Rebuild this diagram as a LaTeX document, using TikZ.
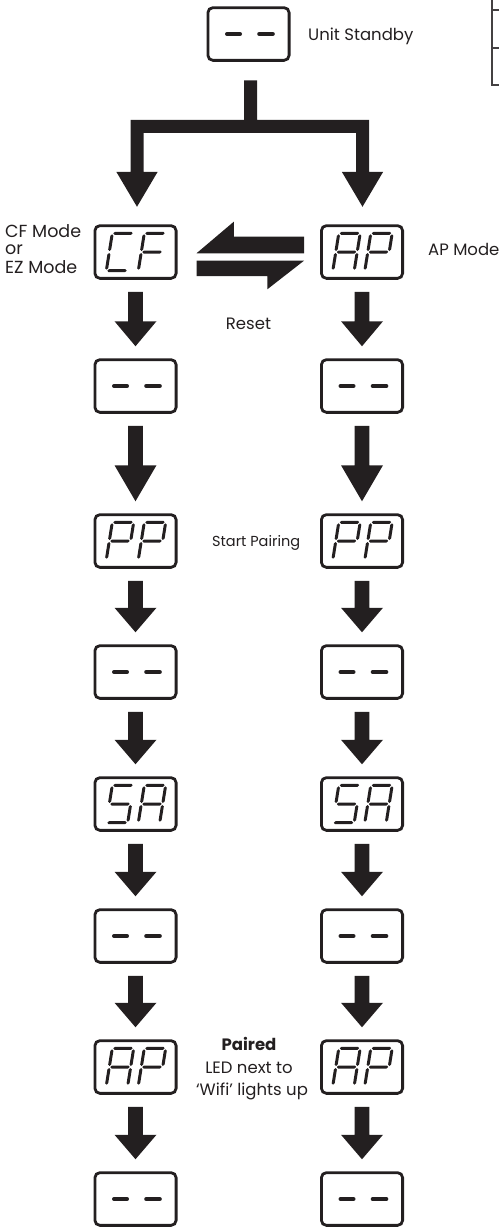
\documentclass[tikz,border=0pt]{standalone}
\usepackage{fontspec}
\setmainfont{Poppins}
\usetikzlibrary{calc}
\definecolor{ink}{HTML}{231F20}
% seven-segment pieces (local units, y downwards)
\newcommand\segh[3]{\fill (#1,#3) -- ({#1+1.5},{#3-1.5}) -- ({#2-1.5},{#3-1.5}) -- (#2,#3) -- ({#2-1.5},{#3+1.5}) -- ({#1+1.5},{#3+1.5}) -- cycle;}
\newcommand\segv[3]{\fill (#1,#2) -- ({#1+1.5},{#2+1.5}) -- ({#1+1.5},{#3-1.5}) -- (#1,#3) -- ({#1-1.5},{#3-1.5}) -- ({#1-1.5},{#2+1.5}) -- cycle;}
\newcommand\sga{\segh{-9.7}{9.7}{-18.7}}
\newcommand\sgg{\segh{-9.7}{9.7}{0}}
\newcommand\sgd{\segh{-9.7}{9.7}{18.7}}
\newcommand\sgf{\segv{-10.7}{-17.7}{-1}}
\newcommand\sge{\segv{-10.7}{1}{17.7}}
\newcommand\sgb{\segv{10.7}{-17.7}{-1}}
\newcommand\sgc{\segv{10.7}{1}{17.7}}
\newcommand\sevseg[2]{\begin{scope}[shift={#1}, xslant=0.16, fill=ink]
  \foreach \s in {#2}{\csname sg\s\endcsname}\end{scope}}
\newcommand\twodig[3]{\sevseg{($(#1)+(-15.5,0)$)}{#2}\sevseg{($(#1)+(16.5,0)$)}{#3}}
\newcommand\dashes[1]{\draw[ink, line width=3.8pt, line cap=round]
  ($(#1)+(-21.6,0)$) -- ($(#1)+(-8.4,0)$) ($(#1)+(10.6,0)$) -- ($(#1)+(24.4,0)$);}
\newcommand\varrow[3]{\fill[ink] ($(#1.south)+(-7.3,12)$) -- ($(#2.north)+(-7.3,-12-#3)$) -- ($(#2.north)+(-21,-12-#3)$) -- ($(#2.north)+(0,-12)$) -- ($(#2.north)+(21,-12-#3)$) -- ($(#2.north)+(7.3,-12-#3)$) -- ($(#1.south)+(7.3,12)$) -- cycle;}
\begin{document}
\begin{tikzpicture}[x=1pt,y=-1pt,
  disp/.style={draw=ink, line width=2.8pt, rounded corners=5pt, minimum width=81.2pt, minimum height=52.7pt, inner sep=0pt},
  lbl/.style={font=\fontsize{16.5}{19}\selectfont, inner sep=0pt, text=ink}]
\useasboundingbox (0,0) rectangle (499,1227);
% corner of a table
\draw[ink!85, line width=1.3pt] (499,10) -- (492,10) (492,0) -- (492,85) -- (499,85) (492,48) -- (499,48);
% displays
\node[disp] (sb) at (248.5,34) {};
\node[disp] (cf) at (135.5,252) {};
\node[disp] (ap) at (362,252) {};
\foreach \n/\y in {1/386,2/541,3/672,4/804,5/936,6/1067,7/1199}{
  \node[disp] (l\n) at (135.5,\y) {};
  \node[disp] (r\n) at (362,\y) {};
}
% display contents
\dashes{sb}
\twodig{cf}{a,f,e,d}{a,f,e,g}
\twodig{ap}{a,b,c,e,f,g}{a,b,f,e,g}
\foreach \n in {1,3,5,7}{\dashes{l\n}\dashes{r\n}}
\twodig{l2}{a,b,f,e,g}{a,b,f,e,g}
\twodig{r2}{a,b,f,e,g}{a,b,f,e,g}
\twodig{l4}{a,f,g,c,d}{a,b,c,e,f,g}
\twodig{r4}{a,f,g,c,d}{a,b,c,e,f,g}
\twodig{l6}{a,b,c,e,f,g}{a,b,f,e,g}
\twodig{r6}{a,b,c,e,f,g}{a,b,f,e,g}
% split arrow
\coordinate (j) at ($(sb.south)+(2,18.7)$);
\coordinate (tl) at ($(cf.north)+(1.5,-17.5)$);
\coordinate (tr) at ($(ap.north)+(0.5,-17.5)$);
\coordinate (bl) at (tl |- j);
\coordinate (br) at (tr |- j);
\fill[ink] ($(j)+(-6.5,0)$) -- ($(j)+(-6.5,39.3)$) -- ($(bl)+(-6.5,39.3)$) -- ($(tl)+(-6.5,-35)$) -- ($(tl)+(-20.7,-35)$) -- (tl) -- ($(tl)+(20.7,-35)$) -- ($(tl)+(6.5,-35)$) -- ($(bl)+(6.5,52.3)$) -- ($(br)+(-6.5,52.3)$) -- ($(tr)+(-6.5,-35)$) -- ($(tr)+(-20.7,-35)$) -- (tr) -- ($(tr)+(20.7,-35)$) -- ($(tr)+(6.5,-35)$) -- ($(br)+(6.5,39.3)$) -- ($(j)+(6.5,39.3)$) -- ($(j)+(6.5,0)$) -- cycle;
% reset harpoons
\coordinate (hl) at ($(cf.east)+(19,5)$);
\coordinate (hr) at ($(ap.west)+(-16,5)$);
\fill[ink] ($(hr)+(0,-3.7)$) -- ($(hr)+(0,-20.3)$) -- ($(hl)+(37.3,-20.3)$) -- ($(hl)+(37.3,-35.3)$) -- ($(hl)+(0,-3.7)$) -- cycle;
\fill[ink] ($(hl)+(0,3.7)$) -- ($(hr)+(0,3.7)$) -- ($(hr)+(-36.7,32.3)$) -- ($(hr)+(-36.7,19)$) -- ($(hl)+(0,19)$) -- cycle;
% column arrows
\varrow{cf}{l1}{25}
\varrow{ap}{r1}{25}
\varrow{l1}{l2}{36}
\varrow{r1}{r2}{36}
\foreach \a/\b in {2/3,3/4,4/5,5/6,6/7}{\varrow{l\a}{l\b}{24.5}\varrow{r\a}{r\b}{24.5}}
% labels
\node[lbl, anchor=base west] at (308,40.7) {Unit Standby};
\node[lbl, anchor=base west, font=\fontsize{17.5}{20}\selectfont] at (5,237) {CF Mode};
\node[lbl, anchor=base west, font=\fontsize{17.5}{20}\selectfont] at (5,254) {or};
\node[lbl, anchor=base west, font=\fontsize{17.5}{20}\selectfont] at (5,273) {EZ Mode};
\node[lbl, anchor=base west] at (428,255) {AP Mode};
\node[lbl, anchor=base] at (248.5,329) {Reset};
\node[lbl, anchor=base west, font=\fontsize{14.5}{17}\selectfont] at (212,546) {Start Pairing};
\node[lbl, anchor=base, font=\fontsize{16.5}{19}\selectfont\bfseries] at (249,1050) {Paired};
\node[lbl, anchor=base] at (249,1073) {LED next to};
\node[lbl, anchor=base] at (252,1095) {‘Wifi’ lights up};
\end{tikzpicture}
\end{document}
